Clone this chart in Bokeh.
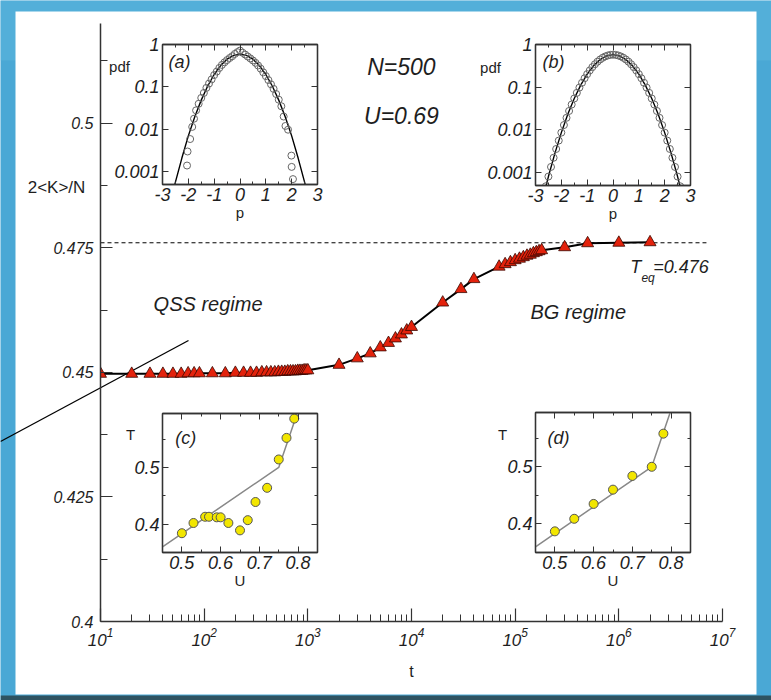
from bokeh.plotting import figure
from bokeh.models import Range1d, FixedTicker, PrintfTickFormatter, Label, LinearAxis, LogAxis, Plot
from bokeh.layouts import column
from bokeh.embed import file_html
from bokeh.resources import INLINE

# ---------------- data ----------------
t = [10, 20, 30, 40, 50, 60, 70, 80, 90,
     120, 160, 200, 240, 280, 320, 360, 400, 440, 480, 520, 560, 600, 640, 680,
     720, 760, 800, 840, 880, 920, 960, 1000,
     2000, 3000, 4000, 5000, 6000, 7000, 8000, 9000, 10000,
     20000, 30000, 40000,
     70000, 80000, 90000, 100000, 110000, 120000, 130000, 140000, 150000,
     160000, 170000, 180000,
     300000, 500000, 1000000, 2000000]
kin = [0.4497, 0.4497, 0.4497, 0.4497, 0.4497, 0.4497, 0.4498, 0.4498, 0.4498,
       0.4498, 0.4498, 0.4499, 0.4499, 0.4499, 0.4499, 0.4500, 0.4500, 0.4500, 0.4500,
       0.4501, 0.4501, 0.4501, 0.4502, 0.4502, 0.4502, 0.4502, 0.4503, 0.4503, 0.4503,
       0.4504, 0.4504, 0.4504,
       0.4515, 0.4528, 0.4538, 0.4550, 0.4559, 0.4568, 0.4576, 0.4584, 0.4591,
       0.4640, 0.4667, 0.4687,
       0.4712, 0.4717, 0.4721, 0.4725, 0.4728, 0.4731, 0.4734, 0.4736, 0.4739,
       0.4741, 0.4743, 0.4745,
       0.4751, 0.4759, 0.4760, 0.4761]
t_eq = 0.476
teq_t = [10, 7000000]

x_major = [10, 100, 1000, 10000, 100000, 1000000, 10000000]
y_major = [0.4, 0.425, 0.45, 0.475, 0.5]
y_minor = [0.4125, 0.4375, 0.4625, 0.4875, 0.5125]

# inset (a): QSS momentum pdf
a_p = [-2.05, -2.03, -1.93, -1.85, -1.78, -1.7, -1.6, -1.5, -1.4, -1.3, -1.2, -1.1, -1.0,
       -0.9, -0.8, -0.7, -0.6, -0.5, -0.4, -0.3, -0.2, -0.1, 0.0, 0.1, 0.2, 0.3, 0.4, 0.5,
       0.6, 0.7, 0.8, 0.9, 1.0, 1.1, 1.2, 1.3, 1.4, 1.5, 1.6, 1.69, 1.76, 1.86, 1.99, 2.0, 2.05]
a_pdf = [0.0014, 0.003, 0.0059, 0.0114, 0.0178, 0.028, 0.04, 0.055, 0.072, 0.095, 0.12, 0.15,
         0.19, 0.23, 0.28, 0.33, 0.38, 0.43, 0.48, 0.53, 0.6, 0.66, 0.72, 0.64, 0.58, 0.52, 0.47,
         0.42, 0.37, 0.32, 0.27, 0.22, 0.18, 0.145, 0.115, 0.09, 0.068, 0.05, 0.035, 0.02, 0.012,
         0.0098, 0.0024, 0.0013, 0.00067]
a_line_p = [-2.6, -2.5, -2.25, -2.0, -1.75, -1.5, -1.25, -1.0, -0.75, -0.5, -0.25, 0.0,
            0.25, 0.5, 0.75, 1.0, 1.25, 1.5, 1.75, 2.0, 2.25, 2.5, 2.6]
a_line_pdf = [0.00033, 0.00057, 0.0021, 0.0070, 0.0198, 0.0488, 0.105, 0.196, 0.318, 0.451,
              0.555, 0.595, 0.555, 0.451, 0.318, 0.196, 0.105, 0.0488, 0.0198, 0.0070, 0.0021,
              0.00057, 0.00033]

# inset (b): equilibrium momentum pdf
b_p = [-2.7, -2.6, -2.5, -2.4, -2.3, -2.2, -2.1, -2.0, -1.9, -1.8, -1.7, -1.6, -1.5, -1.4,
       -1.3, -1.2, -1.1, -1.0, -0.9, -0.8, -0.7, -0.6, -0.5, -0.4, -0.3, -0.2, -0.1, 0.0,
       0.1, 0.2, 0.3, 0.4, 0.5, 0.6, 0.7, 0.8, 0.9, 1.0, 1.1, 1.2, 1.3, 1.4, 1.5, 1.6, 1.7,
       1.8, 1.9, 2.0, 2.1, 2.2, 2.3, 2.4, 2.5, 2.6]
b_pdf = [0.00027, 0.00048, 0.00081, 0.00136, 0.00223, 0.00358, 0.00563, 0.00865, 0.0130,
         0.0192, 0.0278, 0.0393, 0.0544, 0.0738, 0.098, 0.127, 0.162, 0.202, 0.247, 0.295,
         0.345, 0.396, 0.445, 0.489, 0.526, 0.554, 0.572, 0.578, 0.572, 0.554, 0.526, 0.489,
         0.445, 0.396, 0.345, 0.295, 0.247, 0.202, 0.162, 0.127, 0.098, 0.0738, 0.0544,
         0.0393, 0.0278, 0.0192, 0.0130, 0.00865, 0.00563, 0.00358, 0.00223, 0.00136,
         0.00081, 0.00048]
b_line_p = [-2.65, -2.5, -2.25, -2.0, -1.75, -1.5, -1.25, -1.0, -0.75, -0.5, -0.25, 0.0,
            0.25, 0.5, 0.75, 1.0, 1.25, 1.5, 1.75, 2.0, 2.25, 2.5, 2.65]
b_line_pdf = [0.00036, 0.00081, 0.00283, 0.00865, 0.0232, 0.0544, 0.112, 0.202, 0.320,
              0.445, 0.541, 0.578, 0.541, 0.445, 0.320, 0.202, 0.112, 0.0544, 0.0232,
              0.00865, 0.00283, 0.00081, 0.00036]

# insets (c) and (d): T vs U
c_U = [0.50, 0.53, 0.56, 0.57, 0.59, 0.60, 0.62, 0.65, 0.67, 0.69, 0.72, 0.75, 0.77, 0.79]
c_T = [0.384, 0.402, 0.413, 0.413, 0.412, 0.412, 0.402, 0.389, 0.407, 0.439, 0.464,
       0.514, 0.552, 0.586]
d_U = [0.50, 0.55, 0.60, 0.65, 0.70, 0.75, 0.78]
d_T = [0.387, 0.409, 0.435, 0.460, 0.484, 0.500, 0.558]
fit_U = [0.45, 0.75, 0.80]
fit_T = [0.36, 0.50, 0.60]

FONT = "Liberation Sans"
TXT = "#1e1e1e"
AX = "#333333"
BLUE = "#4aa8d5"

EXTRA = {"frame_align": False} if "frame_align" in Plot.properties() else {}


def pos(left, top):
    return {"position": "absolute", "left": f"{left}px", "top": f"{top}px"}


# ---------------- background panel ----------------
bg = figure(width=771, height=700, x_range=Range1d(0, 771), y_range=Range1d(700, 0),
            x_axis_location=None, y_axis_location=None, toolbar_location=None,
            output_backend="svg", min_border=0, outline_line_color=None,
            background_fill_color=BLUE, border_fill_color=BLUE, **EXTRA)
bg.grid.visible = False
bg.quad(left=[0], right=[771], top=[0], bottom=[60], fill_color="#5cb6de", line_color=None, fill_alpha=0.5)
bg.quad(left=[0], right=[771], top=[695], bottom=[700], fill_color="#2e5361", line_color=None)
bg.quad(left=[15], right=[756], top=[11], bottom=[694], fill_color="white", line_color=None)
bg.line([0, 188], [441, 340], line_color="black", line_width=1.3)


def bg_text(x, y, s, size, style="normal", align="center"):
    bg.add_layout(Label(x=x, y=y, text=s, text_font=FONT, text_font_size=size,
                        text_font_style=style, text_color=TXT, text_align=align,
                        text_baseline="middle"))


bg_text(56, 187, "2<K>/N", "17px")
bg_text(119, 66, "pdf", "15px")
bg_text(490, 67, "pdf", "15px")
bg_text(130, 434, "T", "15px")
bg_text(502, 434, "T", "15px")

# ---------------- main plot ----------------
p = figure(width=771, height=700, x_axis_type="log", x_range=Range1d(10, 1e7),
           y_range=Range1d(0.4, 0.52), toolbar_location=None, output_backend="svg",
           min_border_left=100, min_border_right=49, min_border_top=23, min_border_bottom=79,
           background_fill_color=None, border_fill_color=None, outline_line_color=None,
           styles=pos(0, 0), **EXTRA)
p.grid.visible = False
minor_x = [k * d for d in x_major[:-1] for k in range(2, 10)]
p.xaxis.ticker = FixedTicker(ticks=x_major, minor_ticks=minor_x)
p.yaxis.ticker = FixedTicker(ticks=y_major, minor_ticks=y_minor)
p.yaxis.formatter = PrintfTickFormatter(format="%g")
for ax in (p.xaxis[0], p.yaxis[0]):
    ax.axis_line_color = AX
    ax.axis_line_width = 1.5
    ax.major_tick_line_color = AX
    ax.minor_tick_line_color = AX
    ax.major_tick_line_width = 1.2
    ax.minor_tick_line_width = 1.0
    ax.major_tick_out = 0
    ax.minor_tick_out = 0
    ax.major_label_text_font = FONT
    ax.major_label_text_font_style = "italic"
    ax.major_label_text_color = TXT
p.xaxis.major_tick_in = 13
p.xaxis.minor_tick_in = 7
p.yaxis.major_tick_in = 12
p.yaxis.minor_tick_in = 7
p.xaxis.major_label_text_font_size = "17px"
p.yaxis.major_label_text_font_size = "16px"
p.xaxis.major_label_standoff = 6
p.yaxis.major_label_standoff = 7
p.xaxis.axis_label = "t"
p.xaxis.axis_label_text_font = FONT
p.xaxis.axis_label_text_font_style = "normal"
p.xaxis.axis_label_text_font_size = "16px"
p.xaxis.axis_label_text_color = TXT
p.xaxis.axis_label_standoff = 14

p.line(teq_t, [t_eq, t_eq], line_color="black", line_width=1, line_dash="4 3")
p.line(t, kin, line_color="black", line_width=2)
p.scatter(t, kin, marker="triangle", size=12, fill_color="#e3220c",
          line_color="#3a0800", line_width=0.8)


def main_text(x, y, s, size, align="center"):
    p.add_layout(Label(x=x, y=y, text=s, text_font=FONT, text_font_size=size,
                       text_font_style="italic", text_color=TXT, text_align=align,
                       text_baseline="middle"))


main_text(8000, 0.5112, "N=500", "23px")
main_text(8000, 0.5014, "U=0.69", "23px")
main_text(109, 0.4637, "QSS regime", "20px")
main_text(406000, 0.4622, "BG regime", "20px")
main_text(1290000, 0.4711, "T", "18px", align="left")
main_text(1650000, 0.4690, "eq", "12px", align="left")
main_text(2150000, 0.4711, "=0.476", "18px", align="left")

# ---------------- insets ----------------
L, R, TP, B = 58, 8, 8, 50


def inset(left, top, w, h, xr, yr, ylog, xt, xm, yt, ym, xlab, tag, tagx, tagy):
    f = figure(width=L + w + R, height=TP + h + B, x_range=Range1d(*xr), y_range=Range1d(*yr),
               y_axis_type="log" if ylog else "linear", toolbar_location=None,
               output_backend="svg", min_border_left=L, min_border_right=R,
               min_border_top=TP, min_border_bottom=B, background_fill_color="white",
               border_fill_color=None, outline_line_color=AX, outline_line_width=1.3,
               styles=pos(left - L, top - TP), **EXTRA)
    f.grid.visible = False
    f.add_layout(LinearAxis(), "above")
    f.add_layout(LogAxis() if ylog else LinearAxis(), "right")
    bx, tx, ly, ry = f.below[0], f.above[0], f.left[0], f.right[0]
    for ax in (bx, tx):
        ax.ticker = FixedTicker(ticks=xt, minor_ticks=xm)
    for ax in (ly, ry):
        ax.ticker = FixedTicker(ticks=yt, minor_ticks=ym)
    for ax in (bx, tx, ly, ry):
        ax.axis_line_color = AX
        ax.axis_line_width = 1.3
        ax.major_tick_line_color = AX
        ax.minor_tick_line_color = AX
        ax.major_tick_in = 6
        ax.major_tick_out = 0
        ax.minor_tick_in = 3
        ax.minor_tick_out = 0
        ax.major_label_text_font = FONT
        ax.major_label_text_font_style = "italic"
        ax.major_label_text_font_size = "18px"
        ax.major_label_text_color = TXT
        ax.major_label_standoff = 3
    bx.formatter = PrintfTickFormatter(format="%g")
    ly.formatter = PrintfTickFormatter(format="%g")
    for ax in (tx, ry):
        ax.major_label_text_font_size = "0px"
        ax.major_label_text_color = None
        ax.major_label_standoff = 0
    bx.axis_label = xlab
    bx.axis_label_text_font = FONT
    bx.axis_label_text_font_style = "normal"
    bx.axis_label_text_font_size = "15px"
    bx.axis_label_text_color = TXT
    bx.axis_label_standoff = 0
    f.add_layout(Label(x=tagx, y=tagy, text=tag, text_font=FONT, text_font_size="18px",
                       text_font_style="italic", text_color=TXT, text_baseline="middle"))
    return f


pt = [-3, -2, -1, 0, 1, 2, 3]
pm = [-2.5, -1.5, -0.5, 0.5, 1.5, 2.5]
dec = [0.001, 0.01, 0.1, 1]
ut = [0.5, 0.6, 0.7, 0.8]
um = [0.45, 0.55, 0.65, 0.75, 0.85]
tt = [0.4, 0.5]
tm = [0.35, 0.45, 0.55]

ia = inset(162, 44, 155, 140, (-3, 3), (0.0005, 1), True, pt, pm, dec, [], "p", "(a)", -2.77, 0.38)
ia.line(a_line_p, a_line_pdf, line_color="black", line_width=1.4)
ia.scatter(a_p, a_pdf, marker="circle", size=7, fill_color=None, line_color="#666666", line_width=1)

ib = inset(535, 44, 155, 141, (-3, 3), (0.0005, 1), True, pt, pm, dec, [], "p", "(b)", -2.73, 0.38)
ib.line(b_line_p, b_line_pdf, line_color="black", line_width=1.4)
ib.scatter(b_p, b_pdf, marker="circle", size=7, fill_color=None, line_color="#666666", line_width=1)

ic = inset(162, 413, 155, 139, (0.45, 0.85), (0.35, 0.595), False, ut, um, tt, tm, "U", "(c)", 0.483, 0.551)
ic.line(fit_U, fit_T, line_color="#888888", line_width=1.5)
ic.scatter(c_U, c_T, marker="circle", size=9, fill_color="#f2e600", line_color="#555555", line_width=1)

idd = inset(535, 412, 155, 140, (0.45, 0.85), (0.35, 0.595), False, ut, um, tt, tm, "U", "(d)", 0.481, 0.551)
idd.line(fit_U, fit_T, line_color="#888888", line_width=1.5)
idd.scatter(d_U, d_T, marker="circle", size=9, fill_color="#f2e600", line_color="#555555", line_width=1)

root = column(bg, p, ia, ib, ic, idd, spacing=0)
open("out.html", "w").write(file_html(root, INLINE, "chart"))
